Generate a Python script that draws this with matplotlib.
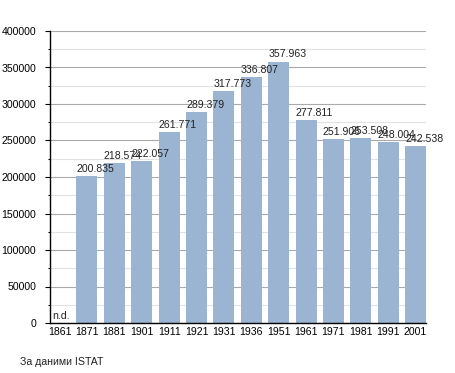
import numpy as np
import matplotlib
matplotlib.use("Agg")
import matplotlib.pyplot as plt
from matplotlib.ticker import MultipleLocator

years = ["1861", "1871", "1881", "1901", "1911", "1921", "1931",
         "1936", "1951", "1961", "1971", "1981", "1991", "2001"]
population = [0, 200835, 218574, 222057, 261771, 289379, 317773,
              336807, 357963, 277811, 251906, 253508, 248004, 242538]
labels = ["n.d.", "200.835", "218.574", "222.057", "261.771", "289.379", "317.773",
          "336.807", "357.963", "277.811", "251.906", "253.508", "248.004", "242.538"]

plt.rcParams['font.family'] = ['Liberation Sans', 'DejaVu Sans']

fig = plt.figure(figsize=(4.55, 3.73), dpi=100)
ax = fig.add_axes([50 / 455, 1 - 323 / 373, 376 / 455, 292 / 373])

x = np.arange(len(years))
bw = 0.767
x0, x1 = -0.35, 13.38
ax.bar(x, population, width=bw, color="#9ab4d1", zorder=2)

for i, (v, lab) in enumerate(zip(population, labels)):
    lx = max(x[i] - bw / 2, x0 + 0.08)
    ax.text(lx, v + 3000, lab, ha="left", va="bottom",
            fontsize=7.6, color="#222222", zorder=3)

ax.set_xlim(x0, x1)
ax.set_ylim(0, 400000)
ax.yaxis.set_major_locator(MultipleLocator(50000))
ax.yaxis.set_minor_locator(MultipleLocator(25000))
ax.grid(which="major", axis="y", color="#aaaaaa", linewidth=0.8, zorder=0)
ax.grid(which="minor", axis="y", color="#e2e2e2", linewidth=0.8, zorder=0)
ax.set_axisbelow(True)

ax.set_xticks(x)
ax.set_xticklabels(years)
ax.tick_params(axis="x", length=0, pad=3, labelsize=7.6)
ax.tick_params(axis="y", which="major", length=3.6, width=0.8, pad=6.3, labelsize=7.6)
ax.tick_params(axis="y", which="minor", length=1.8, width=0.8)

for s in ["top", "right"]:
    ax.spines[s].set_visible(False)
ax.spines["left"].set_linewidth(1.0)
ax.spines["bottom"].set_linewidth(1.0)

fig.text(20 / 455, 1 - 362 / 373, "За даними ISTAT", fontsize=7.6,
         ha="left", va="center", color="#222222")

fig.savefig("out.png", dpi=100)
